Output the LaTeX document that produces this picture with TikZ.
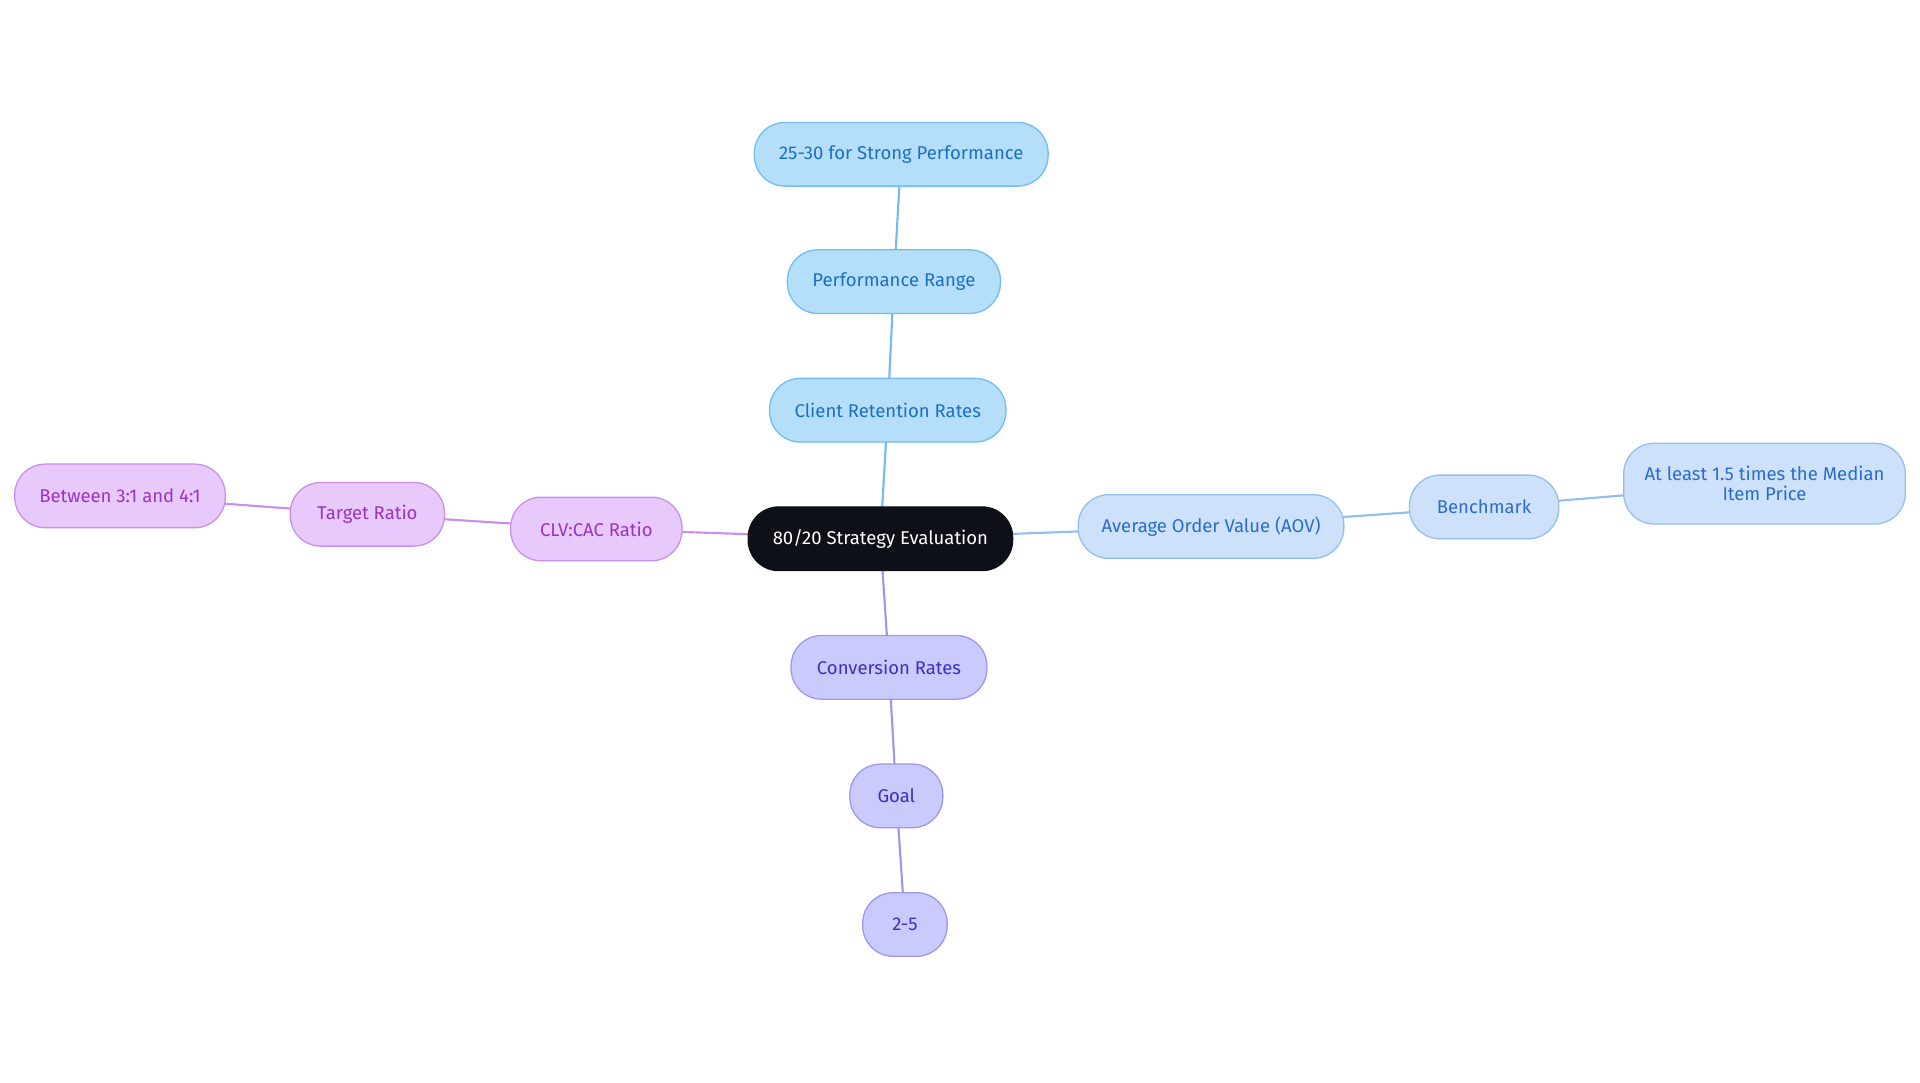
\documentclass[tikz,border=0pt]{standalone}
\usepackage{fontspec}
\setmainfont{Fira Sans}
\usetikzlibrary{positioning}
\definecolor{rootfill}{HTML}{0D1117}
\definecolor{blufill}{HTML}{B5DEFB}
\definecolor{bluline}{HTML}{72BCF0}
\definecolor{blutext}{HTML}{1B70C2}
\definecolor{aovfill}{HTML}{CDE2FA}
\definecolor{aovline}{HTML}{92BFEE}
\definecolor{aovtext}{HTML}{2A6CCB}
\definecolor{clvfill}{HTML}{E8C9FB}
\definecolor{clvline}{HTML}{C890EC}
\definecolor{clvtext}{HTML}{9833C6}
\definecolor{cvrfill}{HTML}{CBCAFC}
\definecolor{cvrline}{HTML}{9C98F0}
\definecolor{cvrtext}{HTML}{3B2FC6}
\begin{document}
\begin{tikzpicture}[
    x=0.02cm, y=-0.02cm,
    every node/.style = {
        rounded corners=0.5cm,
        minimum height=1.04cm,
        align=center,
        font=\fontsize{8.6}{9.5}\selectfont,
        line width=0.6pt,
      },
    rootbox/.style = {fill=rootfill, draw=rootfill, text=white},
    blubox/.style = {fill=blufill, draw=bluline, text=blutext},
    aovbox/.style = {fill=aovfill, draw=aovline, text=aovtext},
    clvbox/.style = {fill=clvfill, draw=clvline, text=clvtext},
    cvrbox/.style = {fill=cvrfill, draw=cvrline, text=cvrtext},
  ]
  \useasboundingbox (0,0) rectangle (1568,884);

  % edges first, boxes on top
  \coordinate (r) at (719,440);
  \coordinate (c1) at (725,335);
  \coordinate (c2) at (730,230);
  \coordinate (c3) at (736,126);
  \coordinate (a1) at (989,430);
  \coordinate (a2) at (1212,414);
  \coordinate (a3) at (1441,395);
  \coordinate (l1) at (487,432);
  \coordinate (l2) at (300,420);
  \coordinate (l3) at (98,405);
  \coordinate (v1) at (726,545);
  \coordinate (v2) at (732,650);
  \coordinate (v3) at (739,755);
  \draw[bluline, line width=1pt] (r) -- (c1) -- (c2) -- (c3);
  \draw[aovline, line width=1pt] (r) -- (a1) -- (a2) -- (a3);
  \draw[clvline, line width=1pt] (r) -- (l1) -- (l2) -- (l3);
  \draw[cvrline, line width=1pt] (r) -- (v1) -- (v2) -- (v3);

  \node[rootbox, minimum width=4.32cm](root) at (r) {80/20 Strategy Evaluation};

  \node[blubox, minimum width=3.86cm](crr) at (c1) {Client Retention Rates};
  \node[blubox, minimum width=3.48cm](prange) at (c2) {Performance Range};
  \node[blubox, minimum width=4.80cm](strong) at (c3) {25-30 for Strong Performance};

  \node[aovbox, minimum width=4.34cm](aov) at (a1) {Average Order Value (AOV)};
  \node[aovbox, minimum width=2.44cm](bench) at (a2) {Benchmark};
  \node[aovbox, minimum width=4.60cm, minimum height=1.32cm](median) at (a3) {At least 1.5 times the Median\\Item Price};

  \node[clvbox, minimum width=2.80cm](clv) at (l1) {CLV:CAC Ratio};
  \node[clvbox, minimum width=2.52cm](target) at (l2) {Target Ratio};
  \node[clvbox, minimum width=3.44cm](between) at (l3) {Between 3:1 and 4:1};

  \node[cvrbox, minimum width=3.20cm](conv) at (v1) {Conversion Rates};
  \node[cvrbox, minimum width=1.52cm](goal) at (v2) {Goal};
  \node[cvrbox, minimum width=1.38cm](range) at (v3) {2-5};
\end{tikzpicture}
\end{document}
